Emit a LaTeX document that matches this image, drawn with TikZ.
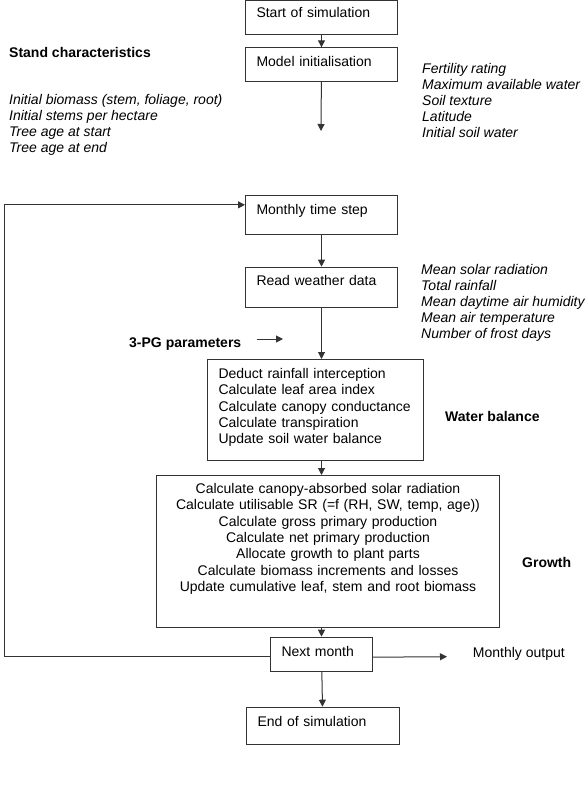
\documentclass[tikz,border=0pt]{standalone}
\usepackage{fontspec}
\setmainfont{Liberation Sans}
\usetikzlibrary{arrows.meta}

\tikzset{
  box/.style={draw=black!80, line width=1pt, anchor=north west, inner xsep=11pt, inner ysep=0pt,
    align=left, font=\fontsize{14}{16.3}\selectfont},
  sidelist/.style={anchor=base west, inner sep=0pt, align=left, font=\fontsize{14}{16}\selectfont\itshape},
  sidehead/.style={anchor=base west, inner sep=0pt, font=\fontsize{14}{17}\selectfont\bfseries},
  flow/.style={draw=black!80, line width=1pt, -{Triangle[length=7pt,width=7pt]}}
}

\begin{document}
\begin{tikzpicture}[x=1pt,y=-1pt]
  \useasboundingbox (0,0) rectangle (588,786);

  % main chain of boxes
  \node[box, text width=130pt, text height=17pt, text depth=17.3pt] (start) at (245,0) {Start of simulation};
  \node[box, text width=130pt, text height=18.7pt, text depth=15pt] (init) at (245,47.3) {Model initialisation};
  \coordinate (initend) at (321,131);
  \node[box, text width=130pt, text height=19.6pt, text depth=19.7pt] (monthly) at (245,194.7) {Monthly time step};
  \node[box, text width=130pt, text height=18.3pt, text depth=22pt] (weather) at (245,266.7) {Read weather data};
  \node[box, text width=194pt, text height=19pt, text depth=82pt] (water) at (207,359)
    {Deduct rainfall interception\\Calculate leaf area index\\Calculate canopy conductance\\Calculate transpiration\\Update soil water balance};
  \node[box, align=center, text width=321pt, text height=18pt, text depth=133.5pt] (growth) at (156,475)
    {Calculate canopy-absorbed solar radiation\\Calculate utilisable SR (=f (RH, SW, temp, age))\\Calculate gross primary production\\Calculate net primary production\\Allocate growth to plant parts\\Calculate biomass increments and losses\\Update cumulative leaf, stem and root biomass\hspace*{27pt}};
  \node[box, text width=80pt, text height=19pt, text depth=15pt] (next) at (270,636.7) {Next month};
  \node[box, text width=130.7pt, text height=19.6pt, text depth=18pt] (finish) at (246,706.7) {End of simulation};

  % inputs and outputs (lists sit on their last line)
  \node[sidehead] (stand) at (9,57.7) {Stand characteristics};
  \node[sidelist] (standlist) at (9,152.3) {Initial biomass (stem, foliage, root)\\Initial stems per hectare\\Tree age at start\\Tree age at end};
  \node[sidelist] (sitelist) at (422,137.3) {Fertility rating\\Maximum available water\\Soil texture\\Latitude\\Initial soil water};
  \node[sidelist] (weatherlist) at (421,338.3) {Mean solar radiation\\Total rainfall\\Mean daytime air humidity\\Mean air temperature\\Number of frost days};
  \node[sidehead] (params) at (129,347) {3-PG parameters};
  \coordinate (paramstail) at (257,339);
  \coordinate (paramstip) at (283,339);
  \node[sidehead] (waterlabel) at (445,421) {Water balance};
  \node[sidehead] (growthlabel) at (522,567) {Growth};
  \coordinate (outtip) at (447,656.7);
  \node[anchor=base west, inner sep=0pt, font=\fontsize{14}{17}\selectfont] (output) at (472.7,657.3) {Monthly output};
  \coordinate (loopleft) at (4,0);

  % connectors
  \draw[flow] (start) -- (init);
  \draw[flow] (init) -- (initend);
  \draw[flow] (monthly) -- (weather);
  \draw[flow] (weather.south) -- (weather.south |- water.north);
  \draw[flow] (water.south -| weather.south) -- (weather.south |- growth.north);
  \draw[flow] (growth.south -| next.north) -- (next);
  \draw[flow] (next) -- (finish);
  \draw[flow] (paramstail) -- (paramstip);
  \draw[flow] ([yshift=-3pt]next.east) -- (outtip);
  \draw[flow] ([yshift=-2.3pt]next.west) -- ([yshift=-2.3pt]next.west -| loopleft) |- ([yshift=10pt]monthly.west);
\end{tikzpicture}
\end{document}
